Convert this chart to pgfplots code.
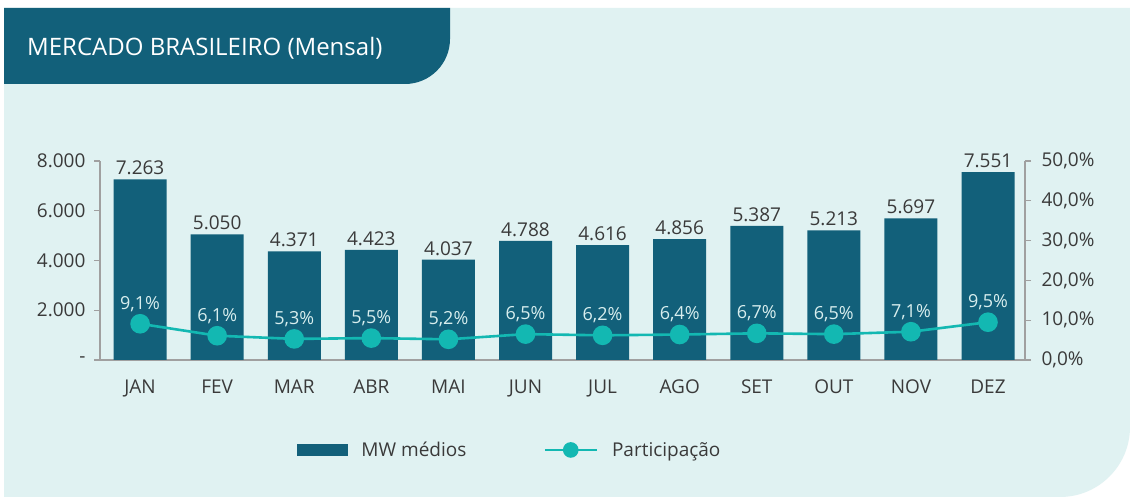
\documentclass[border=0pt]{standalone}
\usepackage{pgfplots}
\pgfplotsset{compat=1.18}
\usepackage{fontspec}
\setmainfont{Open Sans}
\definecolor{bg}{HTML}{E0F2F2}
\definecolor{barc}{HTML}{12607A}
\definecolor{linec}{HTML}{13B8B2}
\definecolor{txt}{HTML}{3A3A3A}
\definecolor{axc}{HTML}{A0A0A0}
\definecolor{lbl}{HTML}{D8EEEE}
\pgfplotstableread{
x y lab
0 7263 7.263
1 5050 5.050
2 4371 4.371
3 4423 4.423
4 4037 4.037
5 4788 4.788
6 4616 4.616
7 4856 4.856
8 5387 5.387
9 5213 5.213
10 5697 5.697
11 7551 7.551
}\mwdata
\pgfplotstableread{
x y lab
0 9.1 9,1
1 6.1 6,1
2 5.3 5,3
3 5.5 5,5
4 5.2 5,2
5 6.5 6,5
6 6.2 6,2
7 6.4 6,4
8 6.7 6,7
9 6.5 6,5
10 7.1 7,1
11 9.5 9,5
}\partdata
\begin{document}
\begin{tikzpicture}
\useasboundingbox (0pt,0pt) rectangle (1130pt,497pt);
\fill[white] (0pt,0pt) rectangle (1130pt,497pt);
\fill[bg] (4pt,0pt) -- (4pt,489pt) -- (1130pt,489pt) -- (1130pt,70pt) arc[start angle=0,end angle=-90,radius=70pt] -- cycle;
\fill[barc] (4pt,489pt) -- (450pt,489pt) -- (450pt,458pt) arc[start angle=0,end angle=-90,radius=45pt] -- (4pt,413pt) -- cycle;
\node[anchor=west, white, font=\fontsize{24}{28}\selectfont, inner sep=0pt] at (27pt,449pt) {MERCADO BRASILEIRO (Mensal)};
\begin{axis}[at={(100pt,137pt)}, anchor=south west, scale only axis,
  width=925pt, height=199pt,
  xmin=-0.52, xmax=11.48, ymin=0, ymax=8000,
  axis x line*=bottom, axis y line*=left,
  axis line style={-, axc, line width=1.3pt},
  xtick={0,...,11},
  xticklabels={JAN,FEV,MAR,ABR,MAI,JUN,JUL,AGO,SET,OUT,NOV,DEZ},
  x tick style={draw=none},
  ytick={0,2000,4000,6000,8000},
  yticklabels={-,2.000,4.000,6.000,8.000},
  y tick style={axc, line width=1.3pt},
  major tick length=6pt, tick align=outside,
  ticklabel style={txt, font=\fontsize{19}{22}\selectfont},
  xticklabel style={yshift=-10pt},
  yticklabel style={xshift=-5pt},
  clip=false,
]
\addplot[ybar, bar width=53pt, fill=barc, draw=none,
  nodes near coords, point meta=explicit symbolic,
  nodes near coords style={txt, font=\fontsize{19}{22}\selectfont, anchor=south, inner sep=2pt, yshift=2pt}]
  table[x=x, y=y, meta=lab] {\mwdata};
\end{axis}
\begin{axis}[at={(100pt,137pt)}, anchor=south west, scale only axis,
  width=925pt, height=199pt,
  xmin=-0.52, xmax=11.48, ymin=0, ymax=50,
  axis x line=none, axis y line*=right,
  axis line style={-, axc, line width=1.3pt},
  ytick={0,10,20,30,40,50},
  yticklabels={{0,0\%},{10,0\%},{20,0\%},{30,0\%},{40,0\%},{50,0\%}},
  y tick style={axc, line width=1.3pt},
  major tick length=6pt, tick align=outside,
  ticklabel style={txt, font=\fontsize{19}{22}\selectfont},
  yticklabel style={xshift=7pt},
  clip=false,
  legend style={at={(0.443,-0.452)}, anchor=center, draw=none, fill=none,
    legend columns=2, font=\fontsize{19}{22}\selectfont, text=txt,
    /tikz/every odd column/.append style={column sep=12pt},
    /tikz/every even column/.append style={column sep=75pt}},
]
\addlegendimage{legend image code/.code={\fill[barc] (0pt,-5.5pt) rectangle (50pt,5.5pt);}}
\addlegendentry{MW médios}
\addplot[linec, line width=2.6pt, mark=*, mark size=8.5pt,
  mark options={fill=linec, draw=none},
  nodes near coords={\pgfplotspointmeta\%}, point meta=explicit symbolic,
  nodes near coords style={lbl, font=\fontsize{18}{22}\selectfont, anchor=south, inner sep=2pt, yshift=9pt},
  legend image code/.code={\draw[linec, line width=2.6pt] (0pt,0pt) -- (52pt,0pt); \fill[linec] (26pt,0pt) circle (6.5pt);}]
  table[x=x, y=y, meta=lab] {\partdata};
\addlegendentry{Participação}
\end{axis}
\end{tikzpicture}
\end{document}
